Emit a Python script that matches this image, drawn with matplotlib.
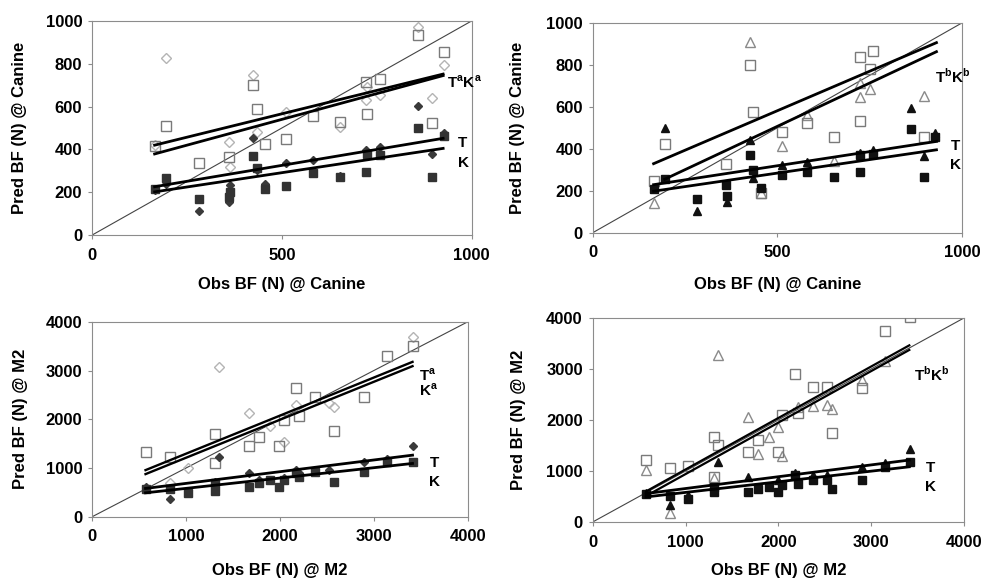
import numpy as np
import matplotlib
matplotlib.use('Agg')
import matplotlib.pyplot as plt

nan = np.nan

# observed bite force (x) - canine and M2
obs_c = [165, 195, 283, 360, 363, 425, 435, 455, 511, 581, 653, 722, 724, 750, 758, 860, 896, 927]
obs_m2 = [580, 833, 1025, 1308, 1310, 1354, 1673, 1777, 1893, 1991, 2040, 2173, 2209, 2370, 2520, 2576, 2895, 3146, 3414]

# top left (canine)
ta_c = [420, 826, nan, 436, 319, 748, 483, nan, 576, nan, 506, 631, 690, nan, 654, 973, 639, 794]
ka_c = [416, 509, 335, 366, nan, 701, 589, 424, 447, 556, 527, 716, 565, nan, 729, 935, 522, 857]
t1_c = [210, 240, 112, 156, 234, 452, 304, 237, 335, 352, 277, 397, 380, nan, 413, 603, 379, 478]
k1_c = [215, 265, 167, 179, 200, 369, 312, 215, 230, 288, 270, 293, 379, nan, 374, 501, 272, 463]

# top right (canine)
tb_c = [142, nan, nan, nan, nan, 909, nan, 190, 411, 561, 340, 645, 711, 683, nan, nan, 652, nan]
kb_c = [245, 424, nan, 327, nan, 799, 577, 188, 482, 522, 458, 835, 534, 779, 865, nan, 458, nan]
t2_c = [214, 498, 103, nan, 145, 443, 261, nan, 324, 337, nan, 380, nan, nan, 395, 593, 367, 475]
k2_c = [210, 258, 163, 229, 177, 368, 300, 214, 277, 288, 266, 288, 372, nan, 375, 495, 266, 458]

# bottom left (M2)
ta_m = [nan, 697, 993, nan, nan, 3064, 2133, nan, 1860, nan, 1538, 2291, nan, nan, 2325, 2256, nan, nan, 3679]
ka_m = [1333, 1231, nan, 1696, 1095, nan, 1450, 1641, nan, 1456, 1983, 2633, 2072, 2448, nan, 1758, 2448, 3302, 3501]
t3_m = [603, 357, 513, 720, nan, 1231, 902, 760, nan, nan, 800, 958, 900, nan, 958, nan, 1128, 1194, 1456]
k3_m = [562, 562, 492, 685, 527, nan, 615, 685, 753, 615, 760, 900, 820, 923, nan, 718, 923, 1128, 1128]

# bottom right (M2)
tb_m = [1017, 177, nan, 854, nan, 3279, 2065, 1326, 1672, 1869, 1292, nan, 2262, 2275, 2295, 2217, 2787, 3147, nan]
kb_m = [1214, 1050, 1102, 1672, 885, 1509, 1365, 1607, nan, 1365, 2099, 2899, 2144, 2636, 2636, 1739, 2623, 3737, 4013]
t4_m = [571, 328, 525, nan, nan, 1180, 873, nan, nan, 820, nan, 952, nan, 918, 918, nan, 1082, 1161, 1424]
k4_m = [545, 506, 460, 689, 590, nan, 590, 642, 689, 590, 722, 918, 754, 820, 820, 657, 827, 1075, 1180]

# regression lines (x range, y at ends)
fit1_x = [165, 925]
ta_c_fit = [420, 752]
ka_c_fit = [379, 745]
t1_c_fit = [226, 452]
k1_c_fit = [202, 405]

fit2_x = [165, 930]
tb_c_fit = [329, 905]
kb_c_fit = [255, 862]
t2_c_fit = [229, 435]
k2_c_fit = [198, 395]

fit3_x = [570, 3413]
ta_m_fit = [958, 3179]
ka_m_fit = [876, 3091]
t3_m_fit = [582, 1265]
k3_m_fit = [492, 1095]

fit4_x = [575, 3408]
tb_m_fit = [600, 3460]
kb_m_fit = [510, 3370]
t4_m_fit = [558, 1214]
k4_m_fit = [492, 1082]

plt.rcParams['font.family'] = ['Liberation Sans', 'DejaVu Sans']
plt.rcParams['font.weight'] = 'bold'
plt.rcParams['mathtext.fontset'] = 'custom'
plt.rcParams['mathtext.rm'] = 'Liberation Sans:bold'
plt.rcParams['mathtext.bf'] = 'Liberation Sans:bold'

fig = plt.figure(figsize=(9.86, 5.82), dpi=100)
ax1 = fig.add_axes([0.0933, 0.596, 0.385, 0.368])
ax2 = fig.add_axes([0.601, 0.600, 0.375, 0.361])
ax3 = fig.add_axes([0.0933, 0.112, 0.381, 0.335])
ax4 = fig.add_axes([0.601, 0.103, 0.377, 0.351])

grey = '#8c8c8c'


def setup(ax, lim, ticks, xlab, ylab, xlab_y, ylab_x):
    ax.plot([0, lim], [0, lim], color='#444444', lw=0.8, zorder=1)
    ax.set_xlim(0, lim)
    ax.set_ylim(0, lim)
    ax.set_xticks(ticks)
    ax.set_yticks(ticks)
    for s in ax.spines.values():
        s.set_color(grey)
    ax.tick_params(direction='out', length=3, color=grey, labelsize=12)
    ax.tick_params(axis='x', pad=6)
    ax.tick_params(axis='y', pad=4)
    ax.set_xlabel(xlab, fontsize=12, fontweight='bold')
    ax.set_ylabel(ylab, fontsize=12, fontweight='bold')
    ax.xaxis.set_label_coords(0.5, xlab_y)
    ax.yaxis.set_label_coords(ylab_x, 0.5)


def open_pts(ax, x, y, m, ms, col):
    ax.plot(x, y, ls='none', marker=m, ms=ms, mfc='none', mec=col, mew=1, zorder=3)


def full_pts(ax, x, y, m, ms, col):
    ax.plot(x, y, ls='none', marker=m, ms=ms, mfc=col, mec=col, zorder=3)


def fit(ax, x, y, lw=2):
    ax.plot(x, y, color='black', lw=lw, zorder=4)


# top left
setup(ax1, 1000, [0, 500, 1000], 'Obs BF (N) @ Canine', 'Pred BF (N) @ Canine', -0.195, -0.17)
ax1.set_yticks([0, 200, 400, 600, 800, 1000])
open_pts(ax1, obs_c, ta_c, 'D', 5.5, '#b4b4b4')
open_pts(ax1, obs_c, ka_c, 's', 7, '#7a7a7a')
full_pts(ax1, obs_c, t1_c, 'D', 4.5, '#3a3a3a')
full_pts(ax1, obs_c, k1_c, 's', 5.5, '#333333')
for yy in [ta_c_fit, ka_c_fit, t1_c_fit, k1_c_fit]:
    fit(ax1, fit1_x, yy)
ax1.text(935, 715, r'T$^{\mathbf{a}}$K$^{\mathbf{a}}$', fontsize=11, fontweight='bold', va='center')
ax1.text(965, 428, 'T', fontsize=11, fontweight='bold', va='center')
ax1.text(963, 335, 'K', fontsize=11, fontweight='bold', va='center')

# top right
setup(ax2, 1000, [0, 500, 1000], 'Obs BF (N) @ Canine', 'Pred BF (N) @ Canine', -0.21, -0.182)
ax2.set_yticks([0, 200, 400, 600, 800, 1000])
open_pts(ax2, obs_c, tb_c, '^', 7, '#8a8a8a')
open_pts(ax2, obs_c, kb_c, 's', 7, '#7a7a7a')
full_pts(ax2, obs_c, t2_c, '^', 6, '#111111')
full_pts(ax2, obs_c, k2_c, 's', 6, '#111111')
fit(ax2, [165, 930], tb_c_fit)
fit(ax2, [195, 930], kb_c_fit)
fit(ax2, fit2_x, t2_c_fit)
fit(ax2, fit2_x, k2_c_fit)
ax2.text(925, 745, r'T$^{\mathbf{b}}$K$^{\mathbf{b}}$', fontsize=11, fontweight='bold', va='center')
ax2.text(968, 411, 'T', fontsize=11, fontweight='bold', va='center')
ax2.text(966, 321, 'K', fontsize=11, fontweight='bold', va='center')

# bottom left
setup(ax3, 4000, [0, 1000, 2000, 3000, 4000], 'Obs BF (N) @ M2', 'Pred BF (N) @ M2', -0.235, -0.17)
open_pts(ax3, obs_m2, ta_m, 'D', 5.5, '#b4b4b4')
open_pts(ax3, obs_m2, ka_m, 's', 7, '#7a7a7a')
full_pts(ax3, obs_m2, t3_m, 'D', 4.5, '#3a3a3a')
full_pts(ax3, obs_m2, k3_m, 's', 5.5, '#333333')
for yy in [ta_m_fit, ka_m_fit]:
    fit(ax3, fit3_x, yy, lw=1.7)
for yy in [t3_m_fit, k3_m_fit]:
    fit(ax3, fit3_x, yy)
ax3.text(3480, 2906, r'T$^{\mathbf{a}}$', fontsize=11, fontweight='bold', va='center')
ax3.text(3480, 2599, r'K$^{\mathbf{a}}$', fontsize=11, fontweight='bold', va='center')
ax3.text(3600, 1095, 'T', fontsize=11, fontweight='bold', va='center')
ax3.text(3590, 718, 'K', fontsize=11, fontweight='bold', va='center')

# bottom right
setup(ax4, 4000, [0, 1000, 2000, 3000, 4000], 'Obs BF (N) @ M2', 'Pred BF (N) @ M2', -0.2, -0.18)
open_pts(ax4, obs_m2, tb_m, '^', 7, '#8a8a8a')
open_pts(ax4, obs_m2, kb_m, 's', 7, '#7a7a7a')
full_pts(ax4, obs_m2, t4_m, '^', 6, '#111111')
full_pts(ax4, obs_m2, k4_m, 's', 6, '#111111')
for yy in [tb_m_fit, kb_m_fit]:
    fit(ax4, fit4_x, yy, lw=1.6)
for yy in [t4_m_fit, k4_m_fit]:
    fit(ax4, fit4_x, yy)
ax4.text(3460, 2885, r'T$^{\mathbf{b}}$K$^{\mathbf{b}}$', fontsize=11, fontweight='bold', va='center')
ax4.text(3590, 1050, 'T', fontsize=11, fontweight='bold', va='center')
ax4.text(3580, 689, 'K', fontsize=11, fontweight='bold', va='center')

fig.savefig('out.png', dpi=100)
